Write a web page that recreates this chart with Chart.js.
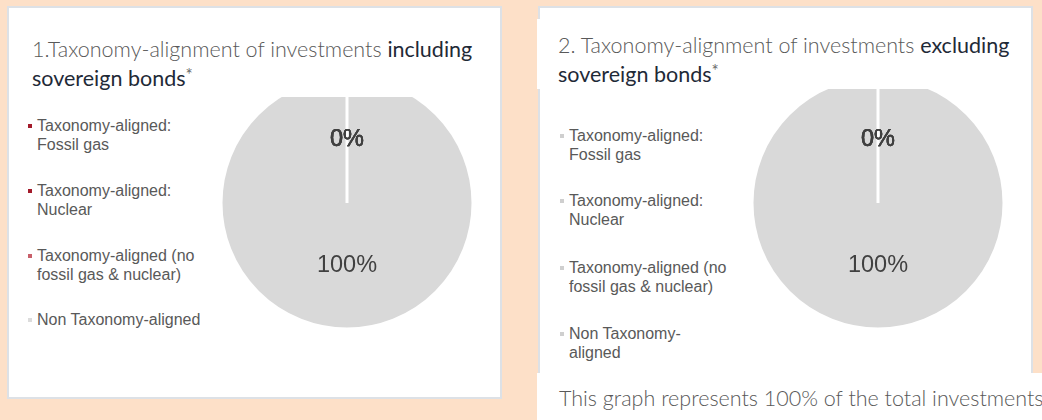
<!DOCTYPE html>
<html>
<head>
<meta charset="utf-8">
<script src="https://cdn.jsdelivr.net/npm/chart.js@4.4.1/dist/chart.umd.min.js"></script>
<style>
html, body { margin: 0; padding: 0; }
body {
    width: 1042px; height: 420px; position: relative; overflow: hidden;
    background: #fde0c8;
    font-family: "Liberation Sans", Arial, sans-serif;
}
.panel { position: absolute; background: #fff; border: 2px solid #dde1e6; box-sizing: border-box; }
.box { position: absolute; background: #fff; }
.title {
    position: absolute; white-space: nowrap;
    font-family: Lato, sans-serif; font-size: 21.5px;
    font-weight: 300; color: #595959;
}
.title b { font-weight: 400; color: #1f2a37; }
.title .star { font-size: 17px; font-weight: 400; vertical-align: 5px; color: #6a6a6a; }
.legend-item { position: absolute; font-size: 16px; line-height: 19px; color: #595959; }
.legend-item i { position: absolute; left: -9px; top: 8px; width: 4px; height: 4px; }
.pie-wrap { position: absolute; overflow: hidden; }
.pie-wrap canvas { position: absolute; left: 0; }
.footer {
    position: absolute; white-space: nowrap;
    font-family: Lato, sans-serif; font-size: 21.5px; font-weight: 300; color: #595959;
}
</style>
</head>
<body>

<div class="panel" style="left:7px; top:6px; width:495px; height:393px;"></div>
<div class="panel" style="left:538px; top:6px; width:495px; height:380px;"></div>

<div class="title" style="left:32px; top:37px; line-height:25px;">1.Taxonomy-alignment of investments <b>including</b><br><b>sovereign bonds</b><span class="star">*</span></div>

<div class="box" style="left:537px; top:19px; width:480px; height:70px;"></div>
<div class="title" style="left:558px; top:32px; line-height:26px;">2. Taxonomy-alignment of investments <b>excluding</b><br><b>sovereign bonds</b><span class="star">*</span></div>

<div id="legendLeft"></div>
<div id="legendRight"></div>

<div class="pie-wrap" style="left:215px; top:97px; width:264px; height:238px;">
    <canvas id="pieLeft" width="264" height="264" style="top:-26px;"></canvas>
</div>
<div class="pie-wrap" style="left:746px; top:89px; width:264px; height:246px;">
    <canvas id="pieRight" width="264" height="264" style="top:-18px;"></canvas>
</div>

<div class="box" style="left:537px; top:373px; width:505px; height:47px;"></div>
<div class="footer" style="left:559px; top:385px;">This graph represents 100% of the total investments</div>

<script>
// categories shared by both pies
const categories = [
    "Taxonomy-aligned: Fossil gas",
    "Taxonomy-aligned: Nuclear",
    "Taxonomy-aligned (no fossil gas & nuclear)",
    "Non Taxonomy-aligned"
];

// 1. including sovereign bonds (%)
const valuesIncluding = [0, 0, 0, 100];
// 2. excluding sovereign bonds (%)
const valuesExcluding = [0, 0, 0, 100];

const coloursIncluding = ["#a31b2b", "#a31b2b", "#c8555f", "#d9d9d9"];
const coloursExcluding = ["#d9d9d9", "#d9d9d9", "#d9d9d9", "#d9d9d9"];
const legendMarksIncluding = ["#a31b2b", "#a31b2b", "#c8606a", "#dcdcdc"];
const legendMarksExcluding = ["#cfcfcf", "#cfcfcf", "#cfcfcf", "#cfcfcf"];

// legend text, wrapped like in the report
function buildLegend(el, marks, left, width, tops) {
    categories.forEach(function(cat, i) {
        var item = document.createElement("div");
        item.className = "legend-item";
        item.style.left = left + "px";
        item.style.width = width + "px";
        item.style.top = tops[i] + "px";
        var mark = document.createElement("i");
        mark.style.background = marks[i];
        item.appendChild(mark);
        item.appendChild(document.createTextNode(cat));
        el.appendChild(item);
    });
}
buildLegend(document.getElementById("legendLeft"), legendMarksIncluding, 37, 180, [115.5, 180.5, 245.5, 309.5]);
buildLegend(document.getElementById("legendRight"), legendMarksExcluding, 569, 162, [125.5, 190.5, 257.5, 323.5]);

// percentage labels at the middle of each slice
// (the empty slices all sit at the top, so their labels pile up and look heavier)
const pctLabels = {
    id: "pctLabels",
    afterDatasetsDraw(chart) {
        const ctx = chart.ctx;
        const data = chart.data.datasets[0].data;
        chart.getDatasetMeta(0).data.forEach(function(arc, i) {
            const p = arc.tooltipPosition();
            ctx.save();
            ctx.font = '23.5px "Liberation Sans", Arial, sans-serif';
            ctx.fillStyle = "#404040";
            ctx.strokeStyle = "#404040";
            ctx.textAlign = "center";
            ctx.textBaseline = "middle";
            ctx.fillText(data[i] + "%", p.x, p.y);
            if (data[i] === 0) {
                ctx.lineWidth = 0.25;
                ctx.strokeText(data[i] + "%", p.x, p.y);
            }
            ctx.restore();
        });
    }
};

function makePie(id, values, colours) {
    return new Chart(document.getElementById(id), {
        type: "pie",
        data: {
            labels: categories,
            datasets: [{
                data: values,
                backgroundColor: colours,
                borderColor: "#ffffff",
                borderWidth: 3
            }]
        },
        options: {
            responsive: false,
            animation: false,
            events: [],
            radius: 126,
            layout: { padding: 0 },
            plugins: {
                legend: { display: false },
                tooltip: { enabled: false }
            }
        },
        plugins: [pctLabels]
    });
}

makePie("pieLeft", valuesIncluding, coloursIncluding);
makePie("pieRight", valuesExcluding, coloursExcluding);
</script>
</body>
</html>
